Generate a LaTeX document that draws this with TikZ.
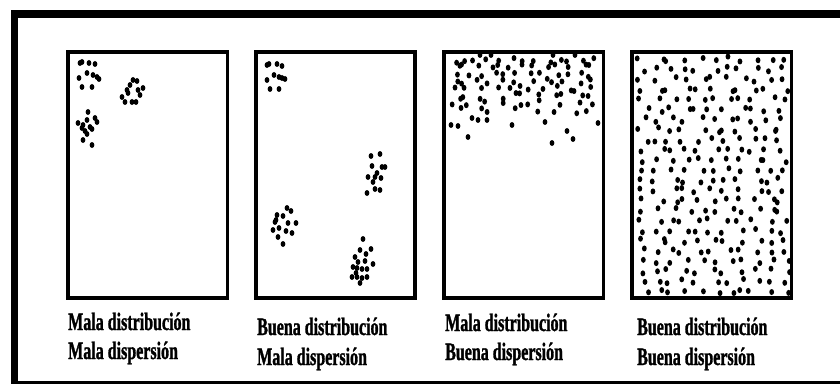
\documentclass[tikz,border=0pt]{standalone}
\usepackage{fontspec}
\setmainfont{Liberation Serif}[FakeStretch=0.64,BoldFeatures={FakeBold=1.2}]
\begin{document}
\begin{tikzpicture}[x=1pt,y=-1pt,
  panel/.style={draw=black,line width=3.2pt},
  lbl/.style={anchor=base west,inner sep=0pt,font=\fontsize{25}{25}\selectfont\bfseries}]
\useasboundingbox (0,0) rectangle (840,385);
\fill[white] (0,0) rectangle (840,385);
\newcommand\dt[2]{\fill (#1,#2) ellipse [x radius=2.4pt, y radius=3pt];}
% ---- panel 1 dots
\foreach \a/\b in {80/63,82/62,89/63,95/64,79/78,87/73,93/75,97/77,99/79,82/87,92/87,
  133/80,137/81,130/85,127/90,138/90,143/88,122/97,125/102,132/102,136/102,140/95,128/93,
  88/112,95/118,97/122,87/120,78/123,83/125,90/127,85/131,92/129,87/134,83/140,92/145,82/128}
  {\dt{\a}{\b}}
% ---- panel 2 dots
\foreach \a/\b in {267/65,269/64,277/64,282/66,267/80,274/75,279/77,282/78,285/79,270/89,279/89,
  371/156,380/154,372/166,382/167,385/167,377/173,368/177,375/177,381/178,373/182,367/193,375/189,380/190,
  287/208,291/211,277/215,283/216,275/222,288/223,296/223,273/230,279/228,286/231,292/233,278/237,283/244,276/220,
  363/239,360/250,371/249,366/254,355/257,358/262,365/261,373/264,353/267,357/268,362/269,367/269,352/277,357/277,362/278,367/277,360/283,356/273}
  {\dt{\a}{\b}}
% ---- panel 3 dots (jittered rows, dense at top)
\pgfmathsetseed{11}
\foreach \r/\n in {0/13,1/13,2/12,3/12,4/12,5/11,6/10,7/8}{
  \foreach \c in {1,...,\n}{
    \pgfmathsetmacro\px{449+(\c-1+rnd)*150/\n}
    \pgfmathsetmacro\py{60+\r*7.2+(rnd-0.5)*6}
    \dt{\px}{\py}}}
\foreach \a/\b in {468/137,552/143,567/131,573/139,598/123,451/125,458/126,472/118,478/120,487/120,512/125,545/122,480/55,491/55,553/55,575/55}
  {\dt{\a}{\b}}
% ---- panel 4 dots (jittered rows)
\pgfmathsetseed{23}
\foreach \r in {0,...,23}{
  \foreach \c in {0,...,10}{
    \pgfmathsetmacro\px{637+(\c+rnd)*13.9}
    \pgfmathsetmacro\py{59+\r*10.1+(rnd-0.5)*5}
    \dt{\px}{\py}
  }}
% ---- panel frames
\draw[panel] (68,52) rectangle (227.5,298);
\draw[panel] (256,52) rectangle (415,298);
\draw[panel] (444,52) rectangle (603.5,298);
\draw[panel] (632,52) rectangle (791.5,298);
% ---- outer frame
\draw[line width=7.5pt] (840,14) -- (14.5,14) -- (14.5,384);
\draw[line width=3pt] (11,382) -- (840,382);
% ---- labels
\node[lbl] (l1a) at (68,330) {Mala distribución};
\node[lbl] (l1b) at (68,359) {Mala dispersión};
\node[lbl] (l2a) at (257,335) {Buena distribución};
\node[lbl] (l2b) at (257,365) {Mala dispersión};
\node[lbl] (l3a) at (445,331) {Mala distribución};
\node[lbl] (l3b) at (445,360) {Buena dispersión};
\node[lbl] (l4a) at (637,335) {Buena distribución};
\node[lbl] (l4b) at (637,365) {Buena dispersión};
\end{tikzpicture}
\end{document}
